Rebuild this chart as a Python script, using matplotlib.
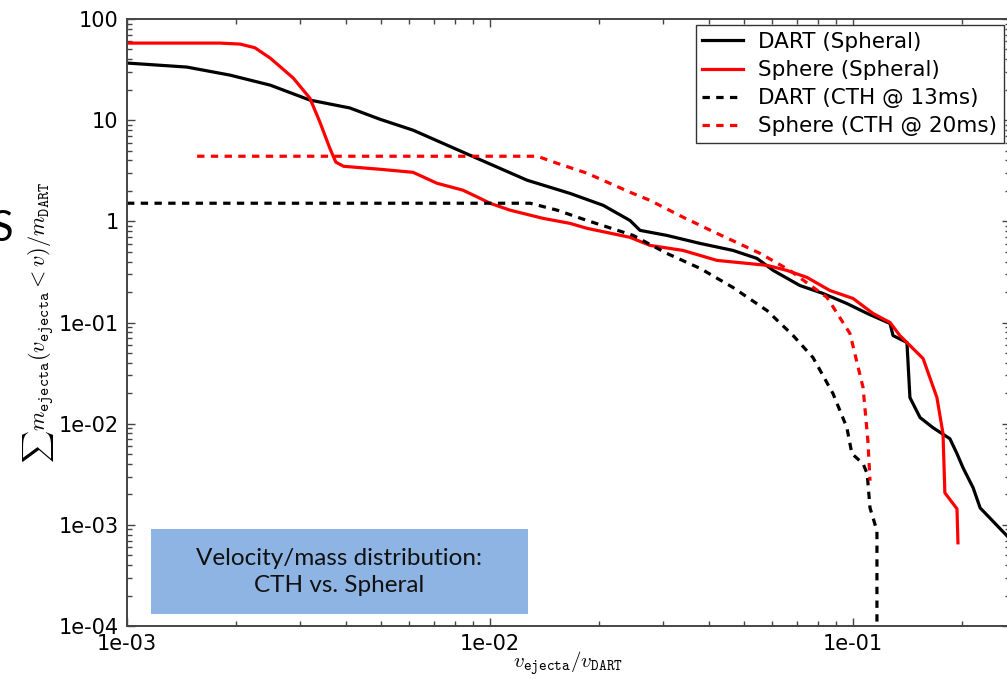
import matplotlib
matplotlib.use("Agg")
import matplotlib.pyplot as plt
from matplotlib.patches import Rectangle
from matplotlib.ticker import FixedLocator, FixedFormatter, LogLocator, NullFormatter

plt.rcParams["mathtext.fontset"] = "cm"
plt.rcParams["font.family"] = ["DejaVu Sans"]

# DART (Spheral)
dart_sph_v = [1.0e-3, 1.46e-3, 1.92e-3, 2.48e-3, 3.19e-3, 4.11e-3, 4.98e-3, 6.14e-3,
              8.81e-3, 1.265e-2, 1.66e-2, 2.05e-2, 2.43e-2, 2.59e-2, 3.07e-2, 3.79e-2,
              4.67e-2, 5.44e-2, 6.03e-2, 7.14e-2, 8.26e-2, 9.62e-2, 0.1094, 0.1265,
              0.1289, 0.1408, 0.1435, 0.1530, 0.1661, 0.1849, 0.1934, 0.2009, 0.2143,
              0.2240, 0.2656]
dart_sph_m = [36.7, 33.5, 27.9, 22.2, 15.8, 13.2, 10.2, 7.96,
              4.50, 2.55, 1.89, 1.44, 1.02, 0.814, 0.726, 0.605,
              0.516, 0.430, 0.327, 0.232, 0.194, 0.154, 0.123, 0.0977,
              0.0743, 0.0634, 0.0181, 0.0115, 0.00912, 0.00710, 0.00505, 0.00367, 0.00232,
              0.00147, 0.000778]

# Sphere (Spheral)
sphere_sph_v = [1.0e-3, 1.80e-3, 2.05e-3, 2.25e-3, 2.48e-3, 2.87e-3, 3.19e-3, 3.40e-3,
                3.62e-3, 3.76e-3, 3.95e-3, 4.98e-3, 6.14e-3, 7.14e-3, 8.43e-3, 9.38e-3,
                1.0e-2, 1.135e-2, 1.40e-2, 1.66e-2, 1.85e-2, 2.43e-2, 2.76e-2, 3.40e-2,
                4.22e-2, 5.80e-2, 6.58e-2, 7.47e-2, 8.64e-2, 0.100, 0.1135, 0.1265,
                0.1346, 0.1463, 0.1560, 0.1703, 0.1770, 0.1791, 0.1934, 0.1946]
sphere_sph_m = [57.8, 57.8, 56.5, 52.0, 41.1, 26.1, 16.5, 9.55,
                5.28, 3.85, 3.50, 3.27, 3.05, 2.38, 2.03, 1.69,
                1.51, 1.29, 1.07, 0.955, 0.853, 0.695, 0.578, 0.516,
                0.411, 0.367, 0.327, 0.279, 0.207, 0.173, 0.123, 0.100,
                0.0743, 0.0553, 0.0440, 0.0181, 0.00796, 0.00207, 0.00144, 0.000664]

# DART (CTH @ 13ms)
dart_cth_v = [1.0e-3, 1.29e-2, 1.53e-2, 1.85e-2, 2.48e-2, 3.07e-2, 3.79e-2, 4.67e-2,
              5.80e-2, 6.84e-2, 7.76e-2, 8.81e-2, 9.62e-2, 9.93e-2, 0.1066, 0.1094,
              0.1114, 0.1164, 0.1164]
dart_cth_m = [1.51, 1.51, 1.29, 1.02, 0.726, 0.482, 0.343, 0.222,
              0.131, 0.0743, 0.0450, 0.0198, 0.00912, 0.00505, 0.00402, 0.00320,
              0.00147, 0.000873, 0.000100]

# Sphere (CTH @ 20ms)
sphere_cth_v = [1.56e-3, 1.35e-2, 1.53e-2, 1.85e-2, 2.43e-2, 2.76e-2, 3.40e-2, 4.22e-2,
                5.55e-2, 6.70e-2, 8.48e-2, 9.81e-2, 0.1066, 0.1099, 0.1114]
sphere_cth_m = [4.40, 4.40, 3.75, 2.99, 1.94, 1.61, 1.10, 0.760,
                0.482, 0.327, 0.177, 0.0778, 0.0227, 0.00679, 0.00273]

x_ticks = [1e-3, 1e-2, 1e-1]
x_tick_labels = ["1e-03", "1e-02", "1e-01"]
y_ticks = [1e-4, 1e-3, 1e-2, 1e-1, 1, 10, 100]
y_tick_labels = ["1e-04", "1e-03", "1e-02", "1e-01", "1", "10", "100"]

W, H = 1007, 679
fig = plt.figure(figsize=(W / 100, H / 100), dpi=100)
ax = fig.add_axes([127 / W, 1 - 626 / H, 883 / W, 607 / H])

lw = 2.3
dash = (0, (2.3, 2.0))
ax.plot(dart_sph_v, dart_sph_m, color="k", lw=lw, label="DART (Spheral)")
ax.plot(sphere_sph_v, sphere_sph_m, color="#ff0000", lw=lw, label="Sphere (Spheral)")
ax.plot(dart_cth_v, dart_cth_m, color="k", lw=lw, ls=dash, label="DART (CTH @ 13ms)")
ax.plot(sphere_cth_v, sphere_cth_m, color="#ff0000", lw=lw, ls=dash, label="Sphere (CTH @ 20ms)")

ax.set_xscale("log")
ax.set_yscale("log")
ax.set_xlim(1e-3, 10 ** (-3 + 883 / 363))
ax.set_ylim(1e-4, 100)

ax.xaxis.set_major_locator(FixedLocator(x_ticks))
ax.xaxis.set_major_formatter(FixedFormatter(x_tick_labels))
ax.yaxis.set_major_locator(FixedLocator(y_ticks))
ax.yaxis.set_major_formatter(FixedFormatter(y_tick_labels))
ax.xaxis.set_minor_locator(LogLocator(base=10, subs=range(2, 10)))
ax.yaxis.set_minor_locator(LogLocator(base=10, subs=range(2, 10)))
ax.xaxis.set_minor_formatter(NullFormatter())
ax.yaxis.set_minor_formatter(NullFormatter())
ax.tick_params(which="both", direction="in", top=True, right=True, color="#444444", width=1)
ax.tick_params(which="major", length=6, labelsize=15, pad=6)
ax.tick_params(which="minor", length=3.5)
for s in ax.spines.values():
    s.set_color("#444444")
    s.set_linewidth(1.4)

ax.set_xlabel(r"$v_{\mathtt{ejecta}}/v_{\mathtt{DART}}$", fontsize=15, labelpad=-3)
ax.set_ylabel(r"$\sum m_{\mathtt{ejecta}}(v_{\mathtt{ejecta}} < v)/m_{\mathtt{DART}}$",
              fontsize=16, labelpad=2)

leg = ax.legend(loc="upper right", fontsize=15.5, fancybox=False, framealpha=1,
                edgecolor="#333333", borderaxespad=0.3, labelspacing=0.38,
                handlelength=1.9, handletextpad=0.7, borderpad=0.3)
leg.get_frame().set_linewidth(1.0)

fig.patches.append(Rectangle((151 / W, 1 - 614 / H), 377 / W, 85 / H,
                             transform=fig.transFigure, facecolor="#8eb4e3",
                             edgecolor="none", zorder=5))
fig.text(339 / W, 1 - 572 / H, "Velocity/mass distribution:\nCTH vs. Spheral",
         ha="center", va="center", fontsize=17.5, family="Lato", color="#111111",
         linespacing=1.3, zorder=6)

fig.text(13 / W, 1 - 229 / H, "S", ha="right", va="center", fontsize=30, family="Lato")

fig.savefig("out.png", dpi=100)
